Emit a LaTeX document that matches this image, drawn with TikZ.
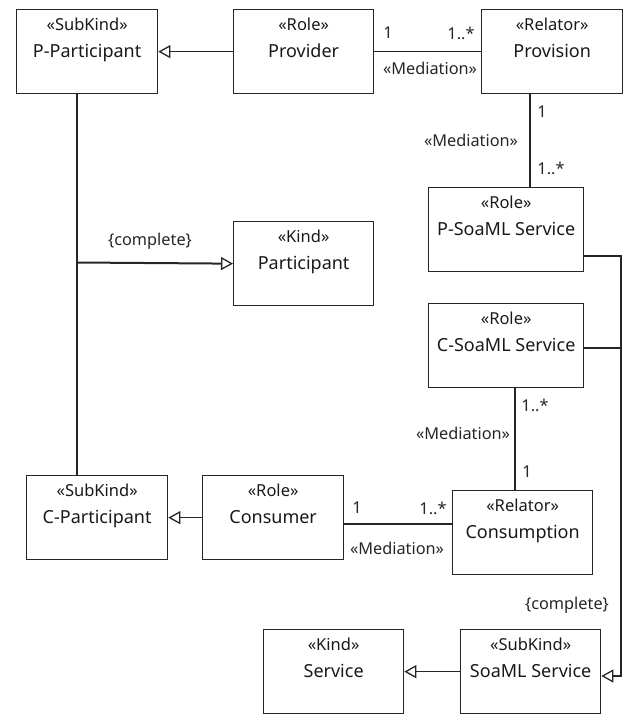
\documentclass[tikz,border=0pt]{standalone}
\usepackage{fontspec}
\setmainfont{Noto Sans}
\usetikzlibrary{arrows.meta}
\newcommand\umlbox[6]{%
  \node[box, minimum width=#4pt] (#1) at (#2,#3) {};
  \node[st] (#1-s) at ([yshift=-21.5pt]#1.north) {«#5»};
  \node[nm] (#1-n) at ([yshift=-48.5pt]#1.north) {#6};}
\begin{document}
\begin{tikzpicture}[x=1pt,y=-1pt,
  box/.style={draw=black!85, line width=1.3pt, anchor=north west, minimum height=84pt, inner sep=0pt},
  st/.style={anchor=base, font=\fontsize{16.5}{18}\selectfont, text=black!90, inner sep=0pt},
  nm/.style={anchor=base, font=\fontsize{18}{20}\selectfont, text=black!90, inner sep=0pt},
  lbl/.style={font=\fontsize{16.3}{18}\selectfont, text=black!85, inner sep=0pt},
  con/.style={draw=black!85, line width=1.3pt},
  gen/.style={con, -{Triangle[open, length=12pt, width=13pt, line width=1.3pt]}},
]
\useasboundingbox (0,0) rectangle (638,728);
\umlbox{pp}{16}{9}{141}{SubKind}{P-Participant}
\umlbox{prov}{233}{9}{140}{Role}{Provider}
\umlbox{provision}{481}{9}{141}{Relator}{Provision}
\umlbox{psoa}{428}{187}{155}{Role}{P-SoaML Service}
\umlbox{part}{233}{221}{140}{Kind}{Participant}
\umlbox{csoa}{428}{303}{155}{Role}{C-SoaML Service}
\umlbox{cp}{26}{475}{141}{SubKind}{C-Participant}
\umlbox{cons}{202}{475}{141}{Role}{Consumer}
\umlbox{consumption}{452}{490}{140}{Relator}{Consumption}
\umlbox{service}{263}{629}{140}{Kind}{Service}
\umlbox{soaml}{460}{629}{140}{SubKind}{SoaML Service}

\coordinate (xa) at (530,0);
\coordinate (xb) at (515,0);
\coordinate (xc) at (77,0);
\coordinate (xr) at (621,0);
\coordinate (yc) at (0,524);
\coordinate (yp) at (0,256);
\coordinate (yq) at (0,348);
\coordinate (ys) at (0,676);
\coordinate (jn) at (77,262.5);

\draw[gen] (prov.west) -- (pp.east);
\draw[con] (prov.east) -- (provision.west);
\draw[con] (provision.south -| xa) -- (psoa.north -| xa);
\draw[con] (pp.south -| xc) -- (cp.north -| xc);
\draw[gen, line width=2pt] (jn) -- (part.west);
\draw[gen] (cons.west) -- (cp.east);
\draw[con] (cons.east |- yc) -- (consumption.west |- yc);
\draw[con] (csoa.south -| xb) -- (consumption.north -| xb);
\draw[gen] (psoa.east |- yp) -| (xr |- ys) -- (soaml.east |- ys);
\draw[con] (csoa.east |- yq) -- (xr |- yq);
\draw[gen] (soaml.west) -- (service.east);

\node[lbl] (l1) at (388,33) {1};
\node[lbl] (l2) at (461,33) {1..*};
\node[lbl] (l3) at (430,68) {«Mediation»};
\node[lbl] (l4) at (542,112) {1};
\node[lbl] (l5) at (471,140) {«Mediation»};
\node[lbl] (l6) at (551,168) {1..*};
\node[lbl] (l7) at (150,241) {\{complete\}};
\node[lbl] (l8) at (535,405) {1..*};
\node[lbl] (l9) at (463,433) {«Mediation»};
\node[lbl] (l10) at (527,472) {1};
\node[lbl] (l11) at (357,508) {1};
\node[lbl] (l12) at (433,508) {1..*};
\node[lbl] (l13) at (397,548) {«Mediation»};
\node[lbl] (l14) at (567,605) {\{complete\}};
\end{tikzpicture}
\end{document}
